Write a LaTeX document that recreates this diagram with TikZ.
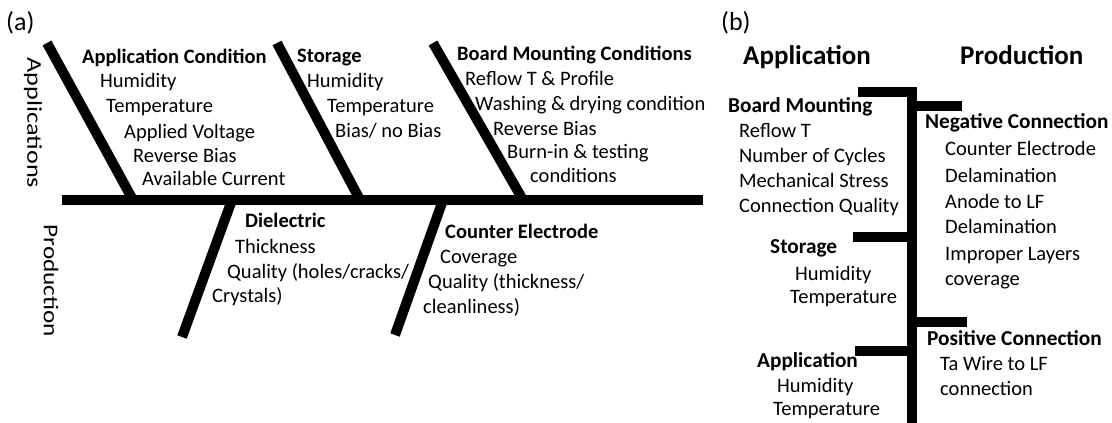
\documentclass[tikz,border=0pt]{standalone}
\usepackage{fontspec}
\usepackage{graphicx}
\setmainfont{Carlito}
\begin{document}
\begin{tikzpicture}[x=1pt,y=-1pt,
  bone/.style={line width=10pt,line cap=butt},
  tx/.style={anchor=mid west,inner sep=0pt,font=\fontsize{20.5}{24}\selectfont},
  hd/.style={anchor=mid west,inner sep=0pt,font=\bfseries\fontsize{20.5}{24}\selectfont},
  hdb/.style={anchor=mid west,inner sep=0pt,font=\bfseries\fontsize{21.3}{25}\selectfont},
  big/.style={anchor=mid west,inner sep=0pt,font=\bfseries\fontsize{27}{31}\selectfont},
  lab/.style={anchor=mid west,inner sep=0pt,font=\fontsize{26}{30}\selectfont},
  rot/.style={rotate=-90,inner sep=0pt,font=\fontsize{21}{25}\selectfont}]
\useasboundingbox (0,0) rectangle (1112,423);
% ---------- (a) ----------
\node[lab] (la) at (6,28) {(a)};
\node[rot] (apps) at (33,123) {\scalebox{1.25}[1]{Applications}};
\node[rot] (prod) at (51,281) {\scalebox{1.2}[1]{Production}};
\coordinate (s0) at (62,200);
\coordinate (s1) at (703,200);
\coordinate (d1t) at (47,43);  \coordinate (d1b) at (133,200);
\coordinate (d2t) at (277,43); \coordinate (d2b) at (360,200);
\coordinate (d3t) at (433,43); \coordinate (d3b) at (523,200);
\coordinate (d4t) at (232,200); \coordinate (d4b) at (182,337);
\coordinate (d5t) at (443,200); \coordinate (d5b) at (395,335);
\draw[bone] (s0) -- (s1);
\draw[bone] (d1t) -- (d1b);
\draw[bone] (d2t) -- (d2b);
\draw[bone] (d3t) -- (d3b);
\draw[bone] (d4t) -- (d4b);
\draw[bone] (d5t) -- (d5b);
\node[hd] (ac) at (82,61) {Application Condition};
\node[tx] (ac1) at (100,85) {Humidity};
\node[tx] (ac2) at (106,110) {Temperature};
\node[tx] (ac3) at (124,136) {Applied Voltage};
\node[tx] (ac4) at (133,160) {Reverse Bias};
\node[tx] (ac5) at (142,183) {Available Current};
\node[hd] (st) at (297,60) {Storage};
\node[tx] (st1) at (307,85) {Humidity};
\node[tx] (st2) at (327,110) {Temperature};
\node[tx] (st3) at (335,135) {Bias/ no Bias};
\node[hd] (bm) at (457,58) {Board Mounting Conditions};
\node[tx] (bm1) at (465,83) {Reflow T \& Profile};
\node[tx] (bm2) at (475,108) {Washing \& drying condition};
\node[tx] (bm3) at (493,133) {Reverse Bias};
\node[tx] (bm4) at (507,156) {Burn-in \& testing};
\node[tx] (bm5) at (530,180) {conditions};
\node[hd] (di) at (245,225) {Dielectric};
\node[tx] (di1) at (235,251) {Thickness};
\node[tx] (di2) at (227,276) {Quality (holes/cracks/};
\node[tx] (di3) at (212,300) {Crystals)};
\node[hd] (ce) at (445,236) {Counter Electrode};
\node[tx] (ce1) at (440,261) {Coverage};
\node[tx] (ce2) at (428,286) {Quality (thickness/};
\node[tx] (ce3) at (423,311) {cleanliness)};
% ---------- (b) ----------
\node[lab] (lb) at (721,28) {(b)};
\node[big] (bapp) at (743,62) {Application};
\node[big] (bprod) at (960,62) {Production};
\coordinate (vt) at (912,87);
\coordinate (vb) at (912,423);
\draw[bone] (vt) -- (vb);
\coordinate (t0) at (858,92); \coordinate (t1) at (912,92);
\coordinate (n0) at (912,106); \coordinate (n1) at (962,106);
\coordinate (g0) at (853,237); \coordinate (g1) at (912,237);
\coordinate (p0) at (912,322); \coordinate (p1) at (967,322);
\coordinate (a0) at (855,351); \coordinate (a1) at (912,351);
\draw[bone] (t0) -- (t1);
\draw[bone] (n0) -- (n1);
\draw[bone] (g0) -- (g1);
\draw[bone] (p0) -- (p1);
\draw[bone] (a0) -- (a1);
\node[hdb] (bbm) at (728,110) {Board Mounting};
\node[tx] (bbm1) at (739,135) {Reflow T};
\node[tx] (bbm2) at (739,160) {Number of Cycles};
\node[tx] (bbm3) at (739,185) {Mechanical Stress};
\node[tx] (bbm4) at (739,210) {Connection Quality};
\node[hdb] (bnc) at (925,126) {Negative Connection};
\node[tx] (bnc1) at (945,153) {Counter Electrode};
\node[tx] (bnc2) at (945,180) {Delamination};
\node[tx] (bnc3) at (945,206) {Anode to LF};
\node[tx] (bnc4) at (945,231) {Delamination};
\node[tx] (bnc5) at (945,258) {Improper Layers};
\node[tx] (bnc6) at (945,283) {coverage};
\node[hdb] (bst) at (770,251) {Storage};
\node[tx] (bst1) at (795,278) {Humidity};
\node[tx] (bst2) at (790,301) {Temperature};
\node[hdb] (bpc) at (927,343) {Positive Connection};
\node[tx] (bpc1) at (940,368) {Ta Wire to LF};
\node[tx] (bpc2) at (940,393) {connection};
\node[hdb] (bap) at (757,365) {Application};
\node[tx] (bap1) at (777,390) {Humidity};
\node[tx] (bap2) at (773,413) {Temperature};
\end{tikzpicture}
\end{document}
